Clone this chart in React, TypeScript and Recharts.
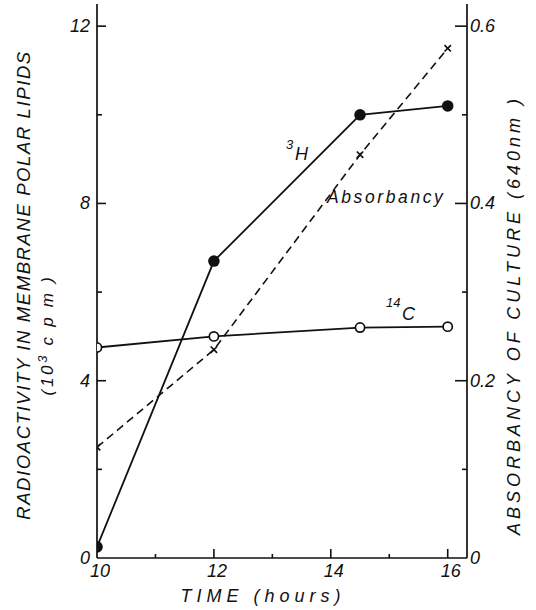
import { CartesianGrid, Line, LineChart, XAxis, YAxis } from "recharts"

const times = [10, 12, 14.5, 16]
const tritium = [0.25, 6.7, 10.0, 10.2]
const carbon14 = [4.75, 5.0, 5.2, 5.22]
const absorbancy = [0.125, 0.235, 0.455, 0.575]

const timeTicks = [10, 11, 12, 13, 14, 15, 16]
const timeLabels = [10, 12, 14, 16]
const leftTicks = [0, 2, 4, 6, 8, 10, 12]
const leftLabels = [0, 4, 8, 12]
const rightTicks = [0, 0.1, 0.2, 0.3, 0.4, 0.5, 0.6]
const rightLabels = [0, 0.2, 0.4, 0.6]

const data = times.map((t, i) => ({
  t,
  h3: tritium[i],
  c14: carbon14[i],
  abs: absorbancy[i],
}))

const font = "'Liberation Sans', Arial, sans-serif"
const ink = "#111"

const FilledDot = (props: any) => <circle cx={props.cx} cy={props.cy} r={5.8} fill={ink} />
const OpenDot = (props: any) => (
  <circle cx={props.cx} cy={props.cy} r={4.6} fill="#fff" stroke={ink} strokeWidth={1.7} />
)
const CrossDot = (props: any) => {
  const { cx, cy } = props
  const s = 3.2
  return (
    <g stroke={ink} strokeWidth={1.7}>
      <line x1={cx - s} y1={cy - s} x2={cx + s} y2={cy + s} />
      <line x1={cx - s} y1={cy + s} x2={cx + s} y2={cy - s} />
    </g>
  )
}

const LeftTick = (props: any) => {
  const { x, y, payload } = props
  const v = payload.value
  const major = leftLabels.includes(v)
  return (
    <g>
      {v !== 0 && <line x1={x} y1={y} x2={x + (major ? 9 : 5)} y2={y} stroke={ink} strokeWidth={1.6} />}
      {major && (
        <text x={x - 7} y={y} dy={6} textAnchor="end" fontSize={18} fontStyle="italic" fontFamily={font} fill={ink}>
          {v}
        </text>
      )}
    </g>
  )
}

const RightTick = (props: any) => {
  const { x, y, payload } = props
  const v = payload.value
  const major = rightLabels.includes(v)
  return (
    <g>
      {v !== 0 && <line x1={x - (major ? 12 : 5)} y1={y} x2={x} y2={y} stroke={ink} strokeWidth={1.6} />}
      {major && (
        <text x={x + 3} y={y} dy={6} textAnchor="start" fontSize={18} fontStyle="italic" fontFamily={font} fill={ink}>
          {v}
        </text>
      )}
    </g>
  )
}

const TimeTick = (props: any) => {
  const { x, y, payload } = props
  const v = payload.value
  const major = timeLabels.includes(v)
  return (
    <g>
      {v !== 10 && <line x1={x} y1={y - (major ? 9 : 4)} x2={x} y2={y} stroke={ink} strokeWidth={1.6} />}
      {major && (
        <text x={x + 3} y={y + 19} textAnchor="middle" fontSize={18} fontStyle="italic" fontFamily={font} fill={ink}>
          {v}
        </text>
      )}
    </g>
  )
}

const textStyle = { fontFamily: font, fontStyle: "italic" as const, fill: ink }

export default function App() {
  return (
    <div style={{ position: "absolute", left: 0, top: 0, width: 536, height: 610, background: "#fff" }}>
      <LineChart width={536} height={610} data={data} margin={{ top: 4, right: 0, bottom: 0, left: 0 }}>
        <CartesianGrid stroke="none" />
        <XAxis
          dataKey="t"
          type="number"
          domain={[10, 16.33]}
          ticks={timeTicks}
          allowDataOverflow
          height={52}
          tickSize={0}
          tickMargin={0}
          tickLine={false}
          tick={<TimeTick />}
          axisLine={{ stroke: ink, strokeWidth: 1.7 }}
        />
        <YAxis
          yAxisId="left"
          orientation="left"
          type="number"
          domain={[0, 12.5]}
          ticks={leftTicks}
          width={97}
          tickSize={0}
          tickMargin={0}
          tickLine={false}
          tick={<LeftTick />}
          axisLine={{ stroke: ink, strokeWidth: 1.7 }}
        />
        <YAxis
          yAxisId="right"
          orientation="right"
          type="number"
          domain={[0, 0.625]}
          ticks={rightTicks}
          width={69}
          tickSize={0}
          tickMargin={0}
          tickLine={false}
          tick={<RightTick />}
          axisLine={{ stroke: ink, strokeWidth: 1.7 }}
        />
        <Line
          yAxisId="right"
          dataKey="abs"
          stroke={ink}
          strokeWidth={1.6}
          strokeDasharray="8 5"
          dot={<CrossDot />}
          isAnimationActive={false}
        />
        <Line yAxisId="left" dataKey="c14" stroke={ink} strokeWidth={1.8} dot={<OpenDot />} isAnimationActive={false} />
        <Line yAxisId="left" dataKey="h3" stroke={ink} strokeWidth={1.8} dot={<FilledDot />} isAnimationActive={false} />
      </LineChart>
      <svg width={536} height={610} style={{ position: "absolute", left: 0, top: 0, pointerEvents: "none" }}>
        <text x={263} y={602} textAnchor="middle" fontSize={18} letterSpacing={5} {...textStyle}>
          TIME (hours)
        </text>
        <text
          transform="translate(30,285) rotate(-90)"
          textAnchor="middle"
          fontSize={18.5}
          letterSpacing={1.6}
          {...textStyle}
        >
          RADIOACTIVITY IN MEMBRANE POLAR LIPIDS
        </text>
        <text transform="translate(53,335) rotate(-90)" textAnchor="middle" fontSize={17} letterSpacing={2.7} {...textStyle}>
          (10<tspan dy={-6} fontSize={13}>3</tspan>
          <tspan dy={6}> c p m )</tspan>
        </text>
        <text
          transform="translate(520,315) rotate(-90)"
          textAnchor="middle"
          fontSize={18}
          letterSpacing={4}
          {...textStyle}
        >
          ABSORBANCY OF CULTURE (640nm )
        </text>
        <text x={286} y={149} fontSize={13} {...textStyle}>
          3
        </text>
        <text x={295} y={160} fontSize={18} {...textStyle}>
          H
        </text>
        <text x={327} y={203} fontSize={17.5} letterSpacing={2.6} {...textStyle}>
          Absorbancy
        </text>
        <text x={386} y={307} fontSize={13} {...textStyle}>
          14
        </text>
        <text x={402} y={320} fontSize={18} {...textStyle}>
          C
        </text>
      </svg>
    </div>
  )
}
